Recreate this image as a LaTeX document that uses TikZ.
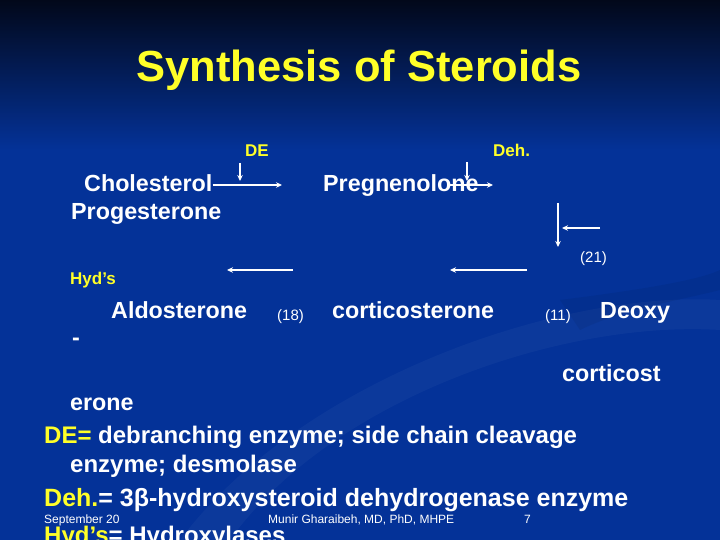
\documentclass[tikz,border=0pt]{standalone}
\usepackage{fontspec}
\setmainfont{Liberation Sans}
\usepackage{tikz}
\usetikzlibrary{%
  arrows.meta,
  calc
}
\definecolor{slideblue}{RGB}{4,50,152}
\definecolor{slidetop}{RGB}{2,8,26}
\definecolor{slideyellow}{RGB}{255,255,40}
\tikzset{
  word/.style={anchor=base west, inner sep=0pt, text=white,
               font=\bfseries\fontsize{#1}{#1}\selectfont},
  word/.default=23.3,
  enz/.style={anchor=base west, inner sep=0pt, text=slideyellow,
              font=\bfseries\fontsize{17}{17}\selectfont},
  num/.style={anchor=base west, inner sep=0pt, text=white,
              font=\fontsize{15}{15}\selectfont},
  foot/.style={anchor=base west, inner sep=0pt, text=white,
               font=\fontsize{12}{12}\selectfont},
  react/.style={draw=white, line width=1.9pt,
                -{Stealth[length=6pt,width=5.5pt]}}
}

\begin{document}
\begin{tikzpicture}[x=1pt,y=-1pt]
\useasboundingbox (0,0) rectangle (720,540);
\clip (0,0) rectangle (720,540);
% background
\fill[slideblue] (0,0) rectangle (720,540);
\shade[top color=slidetop,bottom color=slideblue] (0,0) rectangle (720,150);
\fill[white,opacity=.035] (180,540) .. controls (300,380) and (560,290) .. (720,300)
   -- (720,330) .. controls (560,320) and (330,400) .. (230,540) -- cycle;
\fill[black,opacity=.06] (560,300) .. controls (640,290) and (700,280) .. (720,270)
   -- (720,290) .. controls (680,300) and (620,310) .. (580,330) -- cycle;

\node[anchor=base, inner sep=0pt, text=slideyellow,
      font=\bfseries\fontsize{43.5}{43.5}\selectfont] (title) at (359,82)
      {Synthesis of Steroids};

% the pathway
\node[enz] (de)  at (245,157) {DE};
\node[enz] (deh) at (493,157) {Deh.};
\node[word] (chol) at (84,192)  {Cholesterol};
\node[word] (preg) at (323,192) {Pregnenolone};
\node[word] (prog) at (71,219)  {Progesterone};
\node[num]  (n21)  at (580,262) {(21)};
\node[enz]  (hyd)  at (70,284)  {Hyd’s};
\node[word] (aldo) at (111,318) {Aldosterone};
\node[num]  (n18)  at (277,320) {(18)};
\node[word] (cort) at (332,318) {corticosterone};
\node[num]  (n11)  at (545,320) {(11)};
\node[word] (deoxy) at (600,318) {Deoxy};
\node[word] (dash)  at (72,345)  {-};
\node[word] (deoxyb) at (562,381) {corticost};
\node[word] (deoxyc) at (70,410)  {erone};

\coordinate (a1) at (282,185);
\coordinate (b1) at (240,163);
\coordinate (b2) at (240,181);
\coordinate (a2s) at (447,185);
\coordinate (a2) at (493,185);
\coordinate (c1) at (467,162);
\coordinate (c2) at (467,181);
\coordinate (v1) at (558,203);
\coordinate (v2) at (558,247);
\coordinate (h1) at (600,228);
\coordinate (h2) at (562,228);
\coordinate (l1s) at (293,270);
\coordinate (l1) at (227,270);
\coordinate (l2s) at (527,270);
\coordinate (l2) at (450,270);

\draw[react] (chol.east |- a1) -- (a1);
\draw[react] (b1) -- (b2);
\draw[react] (a2s) -- (a2);
\draw[react] (c1) -- (c2);
\draw[react] (v1) -- (v2);
\draw[react] (h1) -- (h2);
\draw[react] (l1s) -- (l1);
\draw[react] (l2s) -- (l2);

% the key
\node[word=24] (key1) at (44,443)
     {\textcolor{slideyellow}{DE=} debranching enzyme; side chain cleavage};
\node[word=24] (key2) at (70,472) {enzyme; desmolase};
\node[word=25] (key3) at (44,506)
     {\textcolor{slideyellow}{Deh.}= 3β-hydroxysteroid dehydrogenase enzyme};
\node[word=24] (key4) at (44,543)
     {\textcolor{slideyellow}{Hyd’s}= Hydroxylases};

% footer
\node[foot] (date)   at (44,523)  {September 20};
\node[foot] (author) at (268,523) {Munir Gharaibeh, MD, PhD, MHPE};
\node[foot] (page)   at (524,523) {7};
\end{tikzpicture}
\end{document}
